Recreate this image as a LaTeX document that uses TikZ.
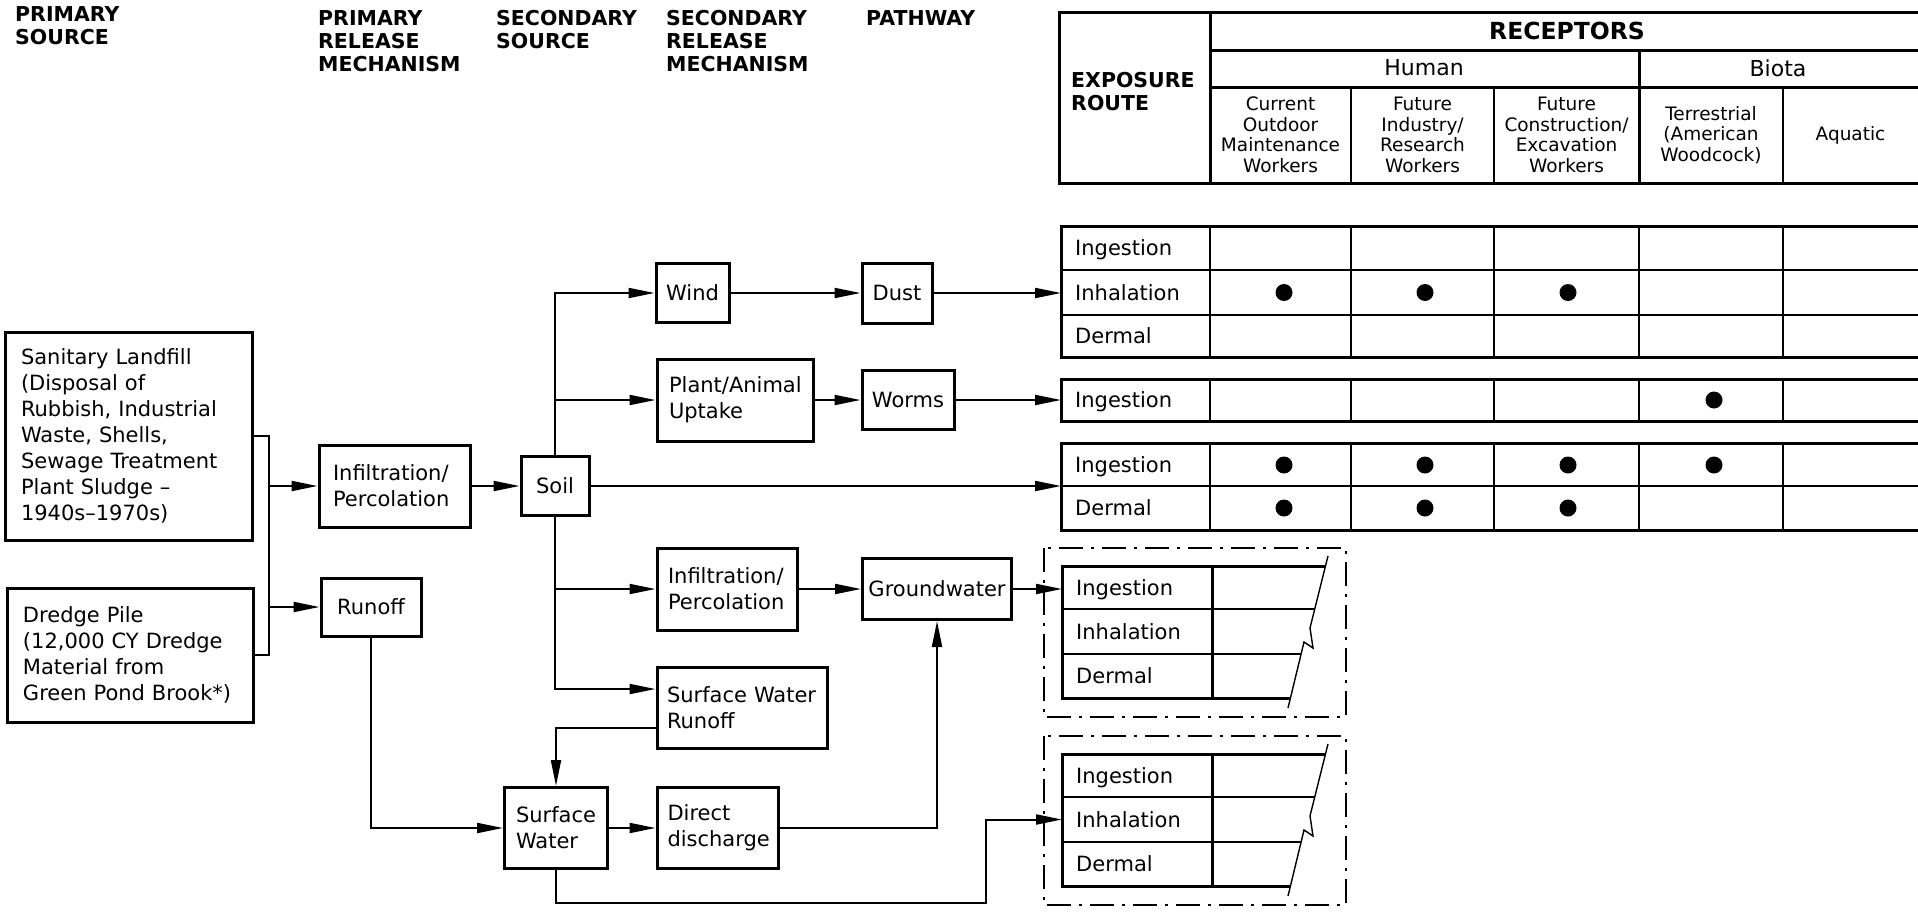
\documentclass[tikz,border=0pt]{standalone}
\usepackage{fontspec}
\setmainfont{DejaVu Sans}
\usetikzlibrary{arrows.meta,calc}

\begin{document}
\begin{tikzpicture}[
    x=1pt, y=-1pt,
    cbox/.style={draw, line width=3pt, inner sep=0pt, align=center,
      font=\fontsize{21}{26}\selectfont},
    lbox/.style={cbox, align=left},
    hdr/.style={anchor=west, inner sep=0pt, align=left,
      font=\bfseries\fontsize{20.5}{23}\selectfont},
    grp/.style={inner sep=0pt, font=\fontsize{22}{26}\selectfont},
    sub/.style={inner sep=0pt, align=center, font=\fontsize{18.5}{20.5}\selectfont},
    rowlab/.style={anchor=west, inner xsep=14pt, inner ysep=0pt,
      text height=15pt, text depth=0pt, font=\fontsize{21}{26}\selectfont},
    dot/.style={circle, fill, inner sep=0pt, minimum size=17pt},
    flow/.style={line width=2pt, -{Triangle[length=26pt,width=10pt]}},
    conn/.style={line width=2pt},
    thk/.style={line width=3pt},
    mid/.style={line width=2.4pt},
    thn/.style={line width=1.4pt},
    dashbox/.style={line width=1.6pt, dash pattern=on 24pt off 8pt on 3pt off 8pt}
  ]
  \useasboundingbox (0,0) rectangle (1918,913);

  \node[hdr] (psrc) at (15,26) {PRIMARY\\SOURCE};
  \node[hdr] (prm) at (318,41) {PRIMARY\\RELEASE\\MECHANISM};
  \node[hdr] (ssrc) at (496,29.5) {SECONDARY\\SOURCE};
  \node[hdr] (srm) at (666,41) {SECONDARY\\RELEASE\\MECHANISM};
  \node[hdr] (path) at (866,18) {PATHWAY};

  \node[lbox, minimum width=247pt, minimum height=208pt, text width=215pt] (landfill) at (128.5,436)
    {Sanitary Landfill\\(Disposal of\\Rubbish, Industrial\\Waste, Shells,\\Sewage Treatment\\Plant Sludge --\\1940s--1970s)};
  \node[lbox, minimum width=246pt, minimum height=134pt, text width=214pt] (dredge) at (130,655)
    {Dredge Pile\\(12,000 CY Dredge\\Material from\\Green Pond Brook*)};
  \node[lbox, minimum width=151pt, minimum height=82pt, text width=123pt] (infil1) at (394.5,486) {Infiltration/\\Percolation};
  \node[cbox, minimum width=100pt, minimum height=58pt] (runoff) at (371,607) {Runoff};
  \node[cbox, minimum width=68pt, minimum height=59pt] (soil) at (555,486) {Soil};
  \node[cbox, minimum width=73pt, minimum height=59pt] (wind) at (692.5,293) {Wind};
  \node[cbox, minimum width=70pt, minimum height=60pt] (dust) at (897,293) {Dust};
  \node[lbox, minimum width=156pt, minimum height=82pt, text width=132pt] (plant) at (735,400) {Plant/Animal\\Uptake};
  \node[cbox, minimum width=92pt, minimum height=59pt] (worms) at (908,400) {Worms};
  \node[lbox, minimum width=140pt, minimum height=82pt, text width=118pt] (infil2) at (727,589) {Infiltration/\\Percolation};
  \node[cbox, minimum width=149pt, minimum height=61pt] (gw) at (937,589) {Groundwater};
  \node[lbox, minimum width=170pt, minimum height=81pt, text width=150pt] (swr) at (742,707.5) {Surface Water\\Runoff};
  \node[lbox, minimum width=103pt, minimum height=81pt, text width=80pt] (sw) at (556,828) {Surface\\Water};
  \node[lbox, minimum width=121pt, minimum height=81pt, text width=100pt] (dd) at (717.5,828) {Direct\\discharge};
  \coordinate (swrin) at ($(swr.north west)!.28!(swr.south west)$);
  \coordinate (swrout) at ($(swr.north west)!.74!(swr.south west)$);

  \draw[thk] (1918,12) -- (1059,12) -- (1059,183) -- (1918,183);
  \draw[thk] (1210,12) -- (1210,183) (1210,50) -- (1918,50) (1210,87) -- (1918,87) (1639,50) -- (1639,183);
  \foreach \cx in {1351,1494,1783} \draw[mid] (\cx,87) -- (\cx,183);
  \node[hdr] (expo) at (1071,92) {EXPOSURE\\ROUTE};
  \node[inner sep=0pt, font=\bfseries\fontsize{23.5}{26}\selectfont] (recep) at (1567,31) {RECEPTORS};
  \node[grp] (human) at (1424,68) {Human};
  \node[grp] (biota) at (1778,68) {Biota};
  \node[sub] (cur) at (1280.5,135) {Current\\Outdoor\\Maintenance\\Workers};
  \node[sub] (ind) at (1422.5,135) {Future\\Industry/\\Research\\Workers};
  \node[sub] (con) at (1566.5,135) {Future\\Construction/\\Excavation\\Workers};
  \node[sub] (ter) at (1711,135) {Terrestrial\\(American\\Woodcock)};
  \node[sub] (aqu) at (1850.5,135) {Aquatic};

  \foreach \tp/\bt in {226/357,379/421,443/530} {
    \draw[thk] (1918,\tp) -- (1061,\tp) -- (1061,\bt) -- (1918,\bt);
    \foreach \cx in {1210,1639} \draw[mid] (\cx,\tp) -- (\cx,\bt);
    \foreach \cx in {1351,1494,1783} \draw[thn] (\cx,\tp) -- (\cx,\bt);
  }
  \foreach \ry in {270,315,486} \draw[thn] (1061,\ry) -- (1918,\ry);
  \node[rowlab] (a1) at (1061,248) {Ingestion};
  \node[rowlab] (a2) at (1061,292.5) {Inhalation};
  \node[rowlab] (a3) at (1061,336) {Dermal};
  \node[rowlab] (b1) at (1061,400) {Ingestion};
  \node[rowlab] (c1) at (1061,464.5) {Ingestion};
  \node[rowlab] (c2) at (1061,508) {Dermal};
  \foreach \px/\py [count=\i] in {1284/292.5,1425/292.5,1568/292.5,1714/400,1284/465,1425/465,1568/465,1714/465,1284/508,1425/508,1568/508}
    \node[dot] (dot\i) at (\px,\py) {};

  \foreach \dy/\nm in {0/gwt,188/swt} {
    \draw[dashbox] (1044,548+\dy) rectangle (1346,717+\dy);
    \draw[thk] (1325.5,566+\dy) -- (1062,566+\dy) -- (1062,698+\dy) -- (1290.4,698+\dy);
    \draw[thk] (1212,566+\dy) -- (1212,698+\dy);
    \draw[thn] (1062,609+\dy) -- (1314.8,609+\dy) (1062,654+\dy) -- (1301.1,654+\dy);
    \draw[thn] (1328,556+\dy) -- (1310,628+\dy) -- (1313,648+\dy) -- (1304,642+\dy) -- (1288,708+\dy);
    \node[rowlab] (\nm1) at (1062,587.5+\dy) {Ingestion};
    \node[rowlab] (\nm2) at (1062,631.5+\dy) {Inhalation};
    \node[rowlab] (\nm3) at (1062,676+\dy) {Dermal};
  }

  \draw[conn] (landfill.east) -- ++(15.5,0) coordinate (jn) |- (dredge.east);
  \draw[flow] (jn |- infil1.west) -- (infil1.west);
  \draw[flow] (jn |- runoff.west) -- (runoff.west);
  \draw[flow] (infil1) -- (soil);
  \draw[flow] (soil.north) |- (wind.west);
  \draw[flow] (soil.north |- plant.west) -- (plant.west);
  \draw[flow] (wind) -- (dust);
  \draw[flow] (dust) -- (dust -| a2.west);
  \draw[flow] (plant) -- (worms);
  \draw[flow] (worms) -- (worms -| b1.west);
  \draw[flow] (soil) -- (soil -| c1.west);
  \draw[flow] (soil.south) |- (swrin);
  \draw[flow] (soil.south |- infil2.west) -- (infil2.west);
  \draw[flow] (infil2) -- (gw);
  \draw[flow] (gw) -- (gw -| gwt1.west);
  \draw[flow] (swrout) -| (sw.north);
  \draw[flow] (runoff.south) |- (sw.west);
  \draw[flow] (sw) -- (dd);
  \draw[flow] (dd.east) -| (gw.south);
  \draw[flow] (sw.south) -- ++(0,33) -| ($(swt2.west)+(-76,0)$) -- (swt2.west);
\end{tikzpicture}
\end{document}
